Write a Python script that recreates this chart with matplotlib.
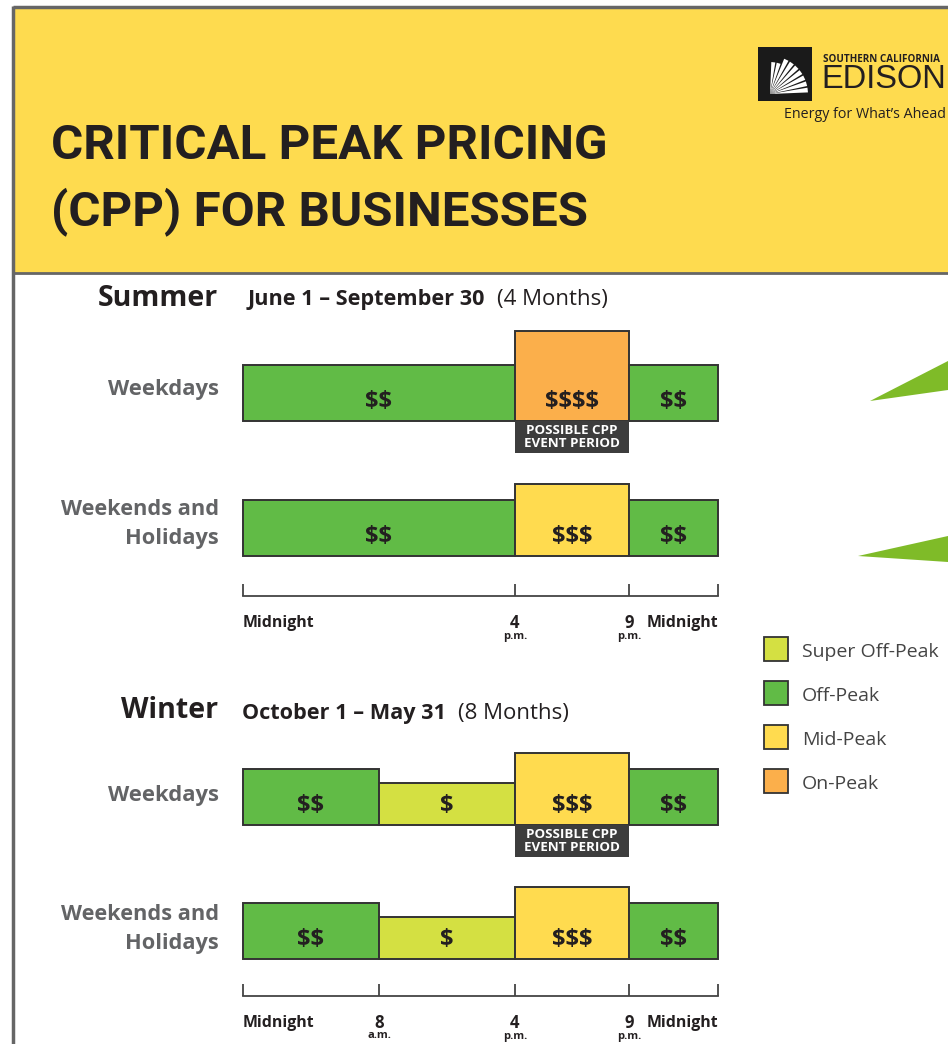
import numpy as np
import matplotlib.pyplot as plt
from matplotlib.patches import Rectangle, Polygon

plt.rcParams['font.family'] = ['Open Sans', 'DejaVu Sans']

W, H = 948, 1044

# ---- data ----
tier_names = ['Super Off-Peak', 'Off-Peak', 'Mid-Peak', 'On-Peak']
tier_price = [1, 2, 3, 4]          # number of $ signs
tier_colors = ['#d4e042', '#61bb46', '#ffdb4f', '#fbaf4b']

summer_weekday_hours = [0, 16, 21, 24]
summer_weekday_tiers = ['Off-Peak', 'On-Peak', 'Off-Peak']
summer_weekend_hours = [0, 16, 21, 24]
summer_weekend_tiers = ['Off-Peak', 'Mid-Peak', 'Off-Peak']
winter_weekday_hours = [0, 8, 16, 21, 24]
winter_weekday_tiers = ['Off-Peak', 'Super Off-Peak', 'Mid-Peak', 'Off-Peak']
winter_weekend_hours = [0, 8, 16, 21, 24]
winter_weekend_tiers = ['Off-Peak', 'Super Off-Peak', 'Mid-Peak', 'Off-Peak']
cpp_hours = [16, 21]

summer_ticks = [0, 16, 21, 24]
summer_tick_labels = ['Midnight', '4', '9', 'Midnight']
summer_tick_sub = ['', 'p.m.', 'p.m.', '']
winter_ticks = [0, 8, 16, 21, 24]
winter_tick_labels = ['Midnight', '8', '4', '9', 'Midnight']
winter_tick_sub = ['', 'a.m.', 'p.m.', 'p.m.', '']

# ---- layout / style ----
hour_knots = [0, 8, 16, 21, 24]
pos_knots = [0, 136, 272, 386, 475]
bar_height = {1: 42, 2: 56, 3: 72, 4: 90}
DARK = '#231f20'
GRAY = '#636466'
EDGE = '#333333'
TITLE_FONT = ['Roboto', 'DejaVu Sans']


def hours_to_pos(h):
    return np.interp(h, hour_knots, pos_knots)


def pos_to_hours(p):
    return np.interp(p, pos_knots, hour_knots)


fig = plt.figure(figsize=(W / 100, H / 100), dpi=100)
base = fig.add_axes([0, 0, 1, 1])
base.set_xlim(0, W)
base.set_ylim(H, 0)
base.axis('off')


def px_axes(x0, x1, y0, y1):
    return fig.add_axes([x0 / W, 1 - y1 / H, (x1 - x0) / W, (y1 - y0) / H])


# header
base.add_patch(Rectangle((13, 7), W, 266, facecolor='#fedb4f', edgecolor='none'))
base.plot([13, W], [7, 7], color='#666666', lw=2.5, solid_capstyle='butt')
base.plot([13, 13], [6, H], color='#666666', lw=2.5, solid_capstyle='butt')
base.plot([13, W], [273, 273], color='#666666', lw=2, solid_capstyle='butt')

base.text(51, 146, 'CRITICAL PEAK PRICING', fontsize=35.5, fontweight='bold', color=DARK,
          family=TITLE_FONT, va='center', ha='left')
base.text(51, 212, '(CPP) FOR BUSINESSES', fontsize=35.5, fontweight='bold', color=DARK,
          family=TITLE_FONT, va='center', ha='left')

# logo
base.add_patch(Rectangle((758, 47), 54, 54, facecolor='#1a1a1a', edgecolor='none'))
cx, cy = 770, 94
for ang in np.linspace(6, 84, 9):
    a = np.radians(ang)
    da = np.radians(3.6)
    r = 38 if ang < 70 else 32
    base.add_patch(Polygon([(cx, cy), (cx + r * np.cos(a - da), cy - r * np.sin(a - da)),
                            (cx + r * np.cos(a + da), cy - r * np.sin(a + da))],
                           closed=True, facecolor='white', edgecolor='none'))
base.text(823, 59, 'SOUTHERN CALIFORNIA', fontsize=7.1, fontweight='bold', color=DARK, va='center', ha='left')
base.text(821, 80, 'EDISON', fontsize=23.5, color=DARK, va='center', ha='left', family=['Liberation Sans', 'DejaVu Sans'])
base.text(946, 114, 'Energy for What\u2019s Ahead', fontsize=10.3, color=DARK, va='center', ha='right')

# decorative green wedges
base.add_patch(Polygon([(870, 401), (W, 361), (W, 390)], closed=True, facecolor='#7fbb28', edgecolor='none'))
base.add_patch(Polygon([(858, 556), (W, 536), (W, 562)], closed=True, facecolor='#7fbb28', edgecolor='none'))

# season headers
base.text(218, 299, 'Summer', fontsize=20.5, fontweight='bold', color=DARK, ha='right', va='center')
base.text(248, 300, 'June 1 \u2013 September 30', fontsize=15.6, fontweight='bold', color=DARK, ha='left', va='center')
base.text(497, 300, '(4 Months)', fontsize=16, color=DARK, ha='left', va='center')
base.text(218, 710, 'Winter', fontsize=20.5, fontweight='bold', color=DARK, ha='right', va='center')
base.text(242, 713, 'October 1 \u2013 May 31', fontsize=15.6, fontweight='bold', color=DARK, ha='left', va='center')
base.text(458, 713, '(8 Months)', fontsize=16, color=DARK, ha='left', va='center')

# row labels
base.text(219, 389, 'Weekdays', fontsize=15.8, fontweight='bold', color=GRAY, ha='right', va='center')
base.text(219, 524, 'Weekends and\nHolidays', fontsize=15.7, fontweight='bold', color=GRAY, ha='right',
          va='center', linespacing=1.45)
base.text(219, 795, 'Weekdays', fontsize=15.8, fontweight='bold', color=GRAY, ha='right', va='center')
base.text(219, 929, 'Weekends and\nHolidays', fontsize=15.7, fontweight='bold', color=GRAY, ha='right',
          va='center', linespacing=1.45)


def draw_row(baseline, hours, tiers, cpp=None):
    ax = px_axes(243, 718, baseline - 100, baseline + 40)
    ax.set_xscale('function', functions=(hours_to_pos, pos_to_hours))
    ax.set_xlim(0, 24)
    ax.set_ylim(-40, 100)
    ax.axis('off')
    starts = np.array(hours[:-1])
    widths = np.diff(hours)
    idx = [tier_names.index(t) for t in tiers]
    prices = [tier_price[i] for i in idx]
    heights = [bar_height[p] for p in prices]
    ax.bar(starts, heights, width=widths, align='edge', color=[tier_colors[i] for i in idx],
           edgecolor=EDGE, linewidth=1.4, clip_on=False)
    for s, w, p in zip(starts, widths, prices):
        mid = pos_to_hours((hours_to_pos(s) + hours_to_pos(s + w)) / 2)
        ax.text(mid, 19, '$' * p, fontsize=17, fontweight='bold', color=DARK, ha='center', va='center',
                parse_math=False)
    if cpp is not None:
        ax.bar(cpp[0], -32, width=cpp[1] - cpp[0], align='edge', color='#3d3d3d', edgecolor='none', clip_on=False)
        mid = pos_to_hours((hours_to_pos(cpp[0]) + hours_to_pos(cpp[1])) / 2)
        ax.text(mid, -16, 'POSSIBLE CPP\nEVENT PERIOD', fontsize=9.6, fontweight='bold', color='white',
                ha='center', va='center', linespacing=1.0)


def draw_timeline(baseline, ticks, labels, subs):
    ax = px_axes(243, 718, baseline - 12, baseline)
    ax.set_xscale('function', functions=(hours_to_pos, pos_to_hours))
    ax.set_xlim(0, 24)
    ax.set_ylim(0, 12)
    ax.patch.set_visible(False)
    for side in ['top', 'left', 'right']:
        ax.spines[side].set_visible(False)
    ax.spines['bottom'].set_color('#444444')
    ax.spines['bottom'].set_linewidth(1.3)
    ax.set_xticks(ticks)
    ax.set_yticks([])
    ax.tick_params(axis='x', direction='in', length=8.6, width=1.3, color='#444444', labelbottom=False)
    ax.xaxis.set_minor_locator(plt.NullLocator())
    n = len(ticks)
    for i, (t, lab, sub) in enumerate(zip(ticks, labels, subs)):
        ha = 'left' if i == 0 else ('right' if i == n - 1 else 'center')
        fs = 11.4 if len(lab) > 1 else 12
        ax.text(t, -27, lab, fontsize=fs, fontweight='bold', color=DARK, ha=ha, va='center', clip_on=False)
        if sub:
            ax.text(t, -40, sub, fontsize=8, fontweight='bold', color=DARK, ha='center', va='center', clip_on=False)


draw_row(421, summer_weekday_hours, summer_weekday_tiers, cpp_hours)
draw_row(556, summer_weekend_hours, summer_weekend_tiers)
draw_timeline(596, summer_ticks, summer_tick_labels, summer_tick_sub)
draw_row(825, winter_weekday_hours, winter_weekday_tiers, cpp_hours)
draw_row(959, winter_weekend_hours, winter_weekend_tiers)
draw_timeline(996, winter_ticks, winter_tick_labels, winter_tick_sub)

# legend
for i, (name, col) in enumerate(zip(tier_names, tier_colors)):
    y = 649 + 44 * i
    base.add_patch(Rectangle((764, y - 12), 24, 24, facecolor=col, edgecolor=EDGE, lw=1.3))
    base.text(802, y + 3, name, fontsize=14, color='#444444', ha='left', va='center')

fig.savefig('out.png', dpi=100)
